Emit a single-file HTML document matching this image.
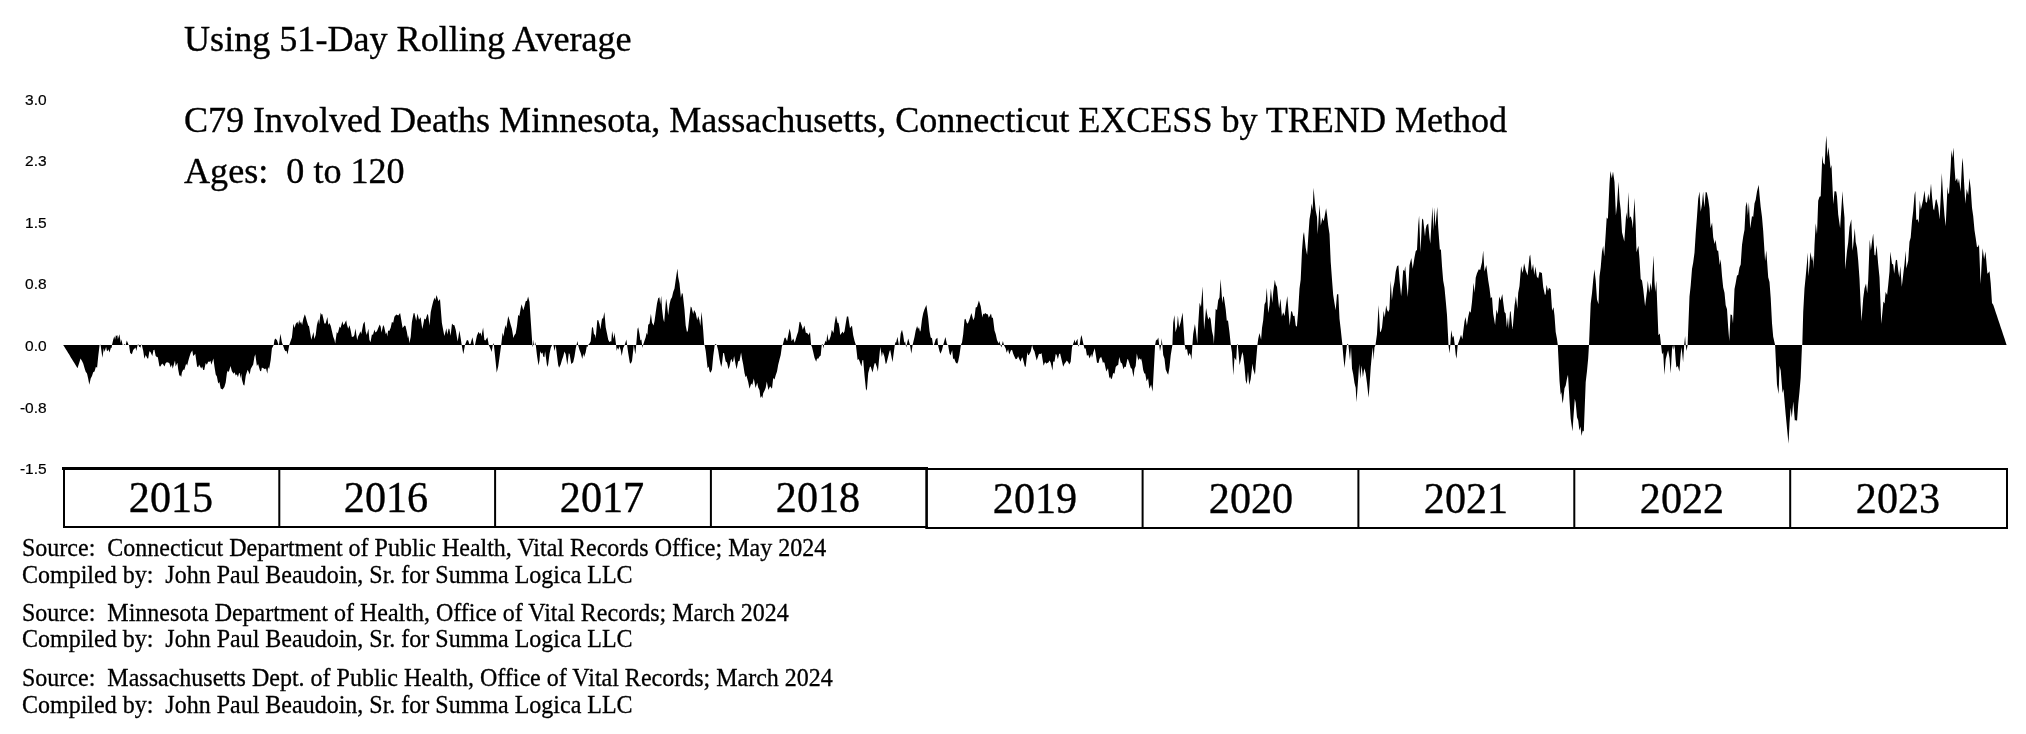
<!DOCTYPE html>
<html><head><meta charset="utf-8"><title>C79 Involved Deaths EXCESS by TREND Method</title>
<style>
html,body{margin:0;padding:0;background:#fff;}
body{width:2026px;height:734px;position:relative;overflow:hidden;color:#000;}
.t,.y,.yr{will-change:transform;-webkit-font-smoothing:antialiased;}
.t{position:absolute;white-space:pre;font-family:"Liberation Serif",serif;line-height:1;}
.h{font-size:36.12px;left:184.4px;}
.y{position:absolute;white-space:pre;font-family:"Liberation Sans",sans-serif;font-size:15.5px;line-height:16px;width:46.6px;text-align:right;left:0;}
.yr{position:absolute;font-family:"Liberation Serif",serif;font-size:42.2px;line-height:1;width:216px;text-align:center;}
.s{font-size:24px;left:21.7px;transform:scaleY(1.06);transform-origin:0 20px;-webkit-text-stroke:0.3px #000;}
.h{-webkit-text-stroke:0.35px #000;}
.yr{-webkit-text-stroke:0.35px #000;transform:scaleY(1.045);transform-origin:0 35.4px;}
.y{-webkit-text-stroke:0.2px #000;}
svg{position:absolute;left:0;top:0;}
</style></head><body>
<svg width="2026" height="734" viewBox="0 0 2026 734">
<path d="M63.2 345.0L63.2 345L64.5 347L65.7 349.1L67 351.1L68.2 353.1L69.5 355.1L70.7 357.2L72 359.2L73.2 361.2L74.5 363.3L75.7 365.3L77.5 368.2L78.2 365.9L79.5 361.9L80.5 358.5L82 361L83.2 363.6L84.5 367.9L85.7 371.8L87 373.4L88.2 378.7L89.3 384.7L90.7 378.5L92 376L93.2 372.3L94.5 371.4L95.9 366.8L97.1 367.8L98.2 356.6L99.6 345L99.9 345L100.1 344.4L100.4 345L100.6 345L102.4 357.7L103.8 348.2L104.5 351.9L106.1 347.1L107 351.3L107.7 350.8L108.5 349.3L109.4 352.6L111 347.4L111.6 348.2L112 345L113.2 339.7L114.3 336.2L115.1 339.6L115.9 335.3L116.7 335.9L117.3 335L117.9 339.3L119.4 334.2L120.8 342.9L121.4 339.2L122.6 345L123.7 345L124.3 343.8L124.9 345L125.7 345L126.8 340.5L128.6 345L129 345L130.2 353.1L131.9 354.2L133.2 350.1L134.4 348.8L135.5 347.5L136.3 351L137.6 345L138.2 344L138.5 345L139.2 346.9L140 346.8L140.4 348.1L141 345L141.5 344.5L141.8 345L143.2 350.7L144.4 358.8L145.7 355L147.4 358.5L148.2 358.4L149.4 351.2L150.5 352L152.3 356L153.5 350.1L154.4 349.7L155.7 355.9L157.2 357.2L157.8 357.1L159.4 366.3L160.4 366.5L162.1 363.4L163.2 364.5L164.5 366.4L165.7 363.1L166.9 362.2L168.2 362.6L169.4 363.2L170.7 367.5L171.9 364.6L172.7 368.7L175 360.6L175.6 366.6L177.4 362.7L178.2 369.6L179.4 375.8L180.2 375.2L181.2 376.9L181.9 372.4L183.3 369.6L184.3 369.9L186.1 363.8L187.2 365.4L188.2 361.3L189.4 357L190.7 353.1L192.3 350.4L193.2 355.9L194.5 354.8L195.3 353.7L197.1 366.4L198.2 367.3L199.1 364.4L201.2 368.6L202.2 366.6L203.2 369.9L204.2 370L205.7 363L206.9 364.8L208.3 361.6L209.3 361.9L210.4 360.7L211.4 364.7L213.4 358.6L214.4 366.2L215.7 374.5L216.9 376.6L218.2 383.6L219.4 382.1L220.7 388.4L222.6 389.5L224.4 386.9L225.7 382.5L226.9 373.1L227.7 370.8L228.8 372.1L230.5 365.9L231.9 371.3L233.6 373.8L234.6 372.2L235.7 375.6L236.9 374.2L237.9 377.2L239 373.3L239.7 373.1L240.5 378.6L241.2 373.6L241.9 379.6L243.4 385.1L244.4 385.5L245.7 375.9L246.9 371.9L247.7 369.7L249.7 374.5L250.7 369L251.9 366.8L253.2 364.4L254.4 356.9L255.3 354.2L256.9 366L258.1 364.1L260.1 371.1L261.1 371.2L261.9 367.5L263.8 368.6L265 369.3L266 368.3L267.3 373.7L268.1 367L269.1 369.1L270.7 359.9L271.9 348.6L273.7 345L274.4 340.2L275.2 338.5L276.9 339.9L278.6 345L278.9 345L280.4 333.7L281.9 342.3L282.9 345L284.4 349.6L285.5 351.2L286.5 350.7L287.5 354.6L289.3 345L290.7 340.8L291.9 337.4L293.4 323.8L294.6 327.9L295.7 324L297.4 321.8L298.2 324.7L299.2 319.7L300 323.6L301 321.5L302.1 324.9L303.2 319.2L304.8 314.2L305.7 316.7L306.9 321.2L308.4 326.3L308.9 325.6L311.3 339.8L313.5 331.9L314.3 338.9L315.7 335.1L316.9 325.3L318.4 318.9L319.1 324.2L320.7 312.5L321.5 314.8L322.2 313.7L323.2 318.1L324.4 323.4L325.6 323.5L327.4 316.9L328.3 324.9L329.3 322.9L330.7 325.8L331.9 331.1L333.2 336.8L334.4 339.7L335.2 343.4L336.8 331.9L337.8 333.5L339.6 326.5L340.6 327.9L342.4 321.2L343.3 324.9L344.4 324L346.2 320.3L346.9 324.6L348.2 328.8L349.5 325.3L350.7 330.4L351.9 336.9L353.6 336.6L354.4 335L355.4 328.6L357.2 340.2L358.2 336.3L359.4 334.1L360.3 331.3L361.3 334.1L363.2 324.1L364.6 321.5L365.7 331.4L366.8 334.9L368.4 328.7L369.4 339.7L370.5 342.3L371.9 334.5L373 334.8L374.5 329.6L375.3 332.5L376.9 331.2L378.2 327.9L379.7 324.6L380.7 326.8L381.5 332.4L383.2 324.9L384.2 327.1L385.8 334.3L386.6 332.2L387.3 336.5L388.1 330.5L389.3 331L390.7 327.8L391.9 322L393.2 322.8L394.4 316.8L396.3 314.6L398.3 315.4L400.1 313.1L402.6 328L404.6 325.4L405.5 325.9L406.9 332.1L408 338.4L408.5 335.3L409.3 343.2L410.7 336.9L411.9 322L413.6 313.3L414.4 313L416.2 320.7L417.5 313.6L419 319.7L420.6 317.2L422.3 328.9L423.2 324.7L424.4 318.5L425.7 319.6L427.4 313.8L428.2 315.4L429.6 325.5L430.7 312.3L431.9 306.7L433.2 301.6L434.6 297.5L435.3 300.3L436.6 295.1L438.4 301.2L440 299.1L441.9 323.1L443.2 329.9L444.4 336L446.4 328.3L447.2 334.5L448.7 328.6L449.4 329.1L450.6 335.8L452 323.5L453.2 325L454.4 325.3L455.7 329.8L456.9 337.1L457.7 341.5L459.4 330.5L460.7 338.3L461.7 345L463.3 354.3L465 345L466.9 339.9L468.2 340.5L469.3 344L470.5 343.9L472.4 337.3L473.9 345L475 345L476.9 335.7L478.6 331.8L479.7 333.9L480.6 332.5L481.4 336.6L483.1 327.6L484.4 340L485.4 340.4L487.4 337.2L488.8 345L490.7 349.3L491.6 352.1L492.8 345L493.3 342.9L493.9 345L495.7 362.3L496.7 372.8L498.2 366.6L499.4 358L501.2 345L502.6 332.6L503.5 336.4L504.4 330.3L505.5 325.1L506.3 328.5L508.2 316L509.4 319.8L510.7 324.8L511.9 328.8L513.4 338L514.5 334.9L515.7 333.5L517 325.8L518.2 314.7L519.3 316.3L520.7 308.3L521.6 304.3L523.3 310.3L524.5 306.3L525.7 301.2L527 300.8L528.1 296.5L529.5 302.1L530.7 319.9L532.4 345L532.8 347.2L533.1 345L533.4 339.5L534 345L534.4 345L534.8 345L535.1 341.9L535.8 345L537 355.7L538.5 365.4L539.5 360.6L540.2 351.3L541.3 353.8L542.5 352.6L543.2 356.4L544.4 357.3L545.1 351.3L547.2 367.1L548.2 364.2L549.5 354.1L550.7 348L552.1 345L553.4 345L554.6 351L555.7 345L557 355.5L558.2 365.1L559.1 367.7L560.7 364.5L562 359.8L563.2 356.6L564.5 351.6L565.7 354.2L567.3 365L568.8 353.3L569.6 354.1L571.3 363.9L573.2 362.3L574.5 356.5L575.7 348.8L576.5 345L577.5 340.9L578.1 345L579.5 350.1L580.7 352.9L582.3 359L583.3 353.4L584.1 357.1L585.7 352.2L586.8 346.2L587.3 347.3L588.1 345L589.5 343.4L590.7 341.3L592 327.2L593 327.6L594 334.6L595 334.5L595.7 338.4L597.3 320.3L598.2 320.1L599.5 324.3L600.4 329.6L602.1 318L603 319.1L604.4 312.1L605.7 327.3L607 333.4L608.2 339.4L609.3 341.9L610.4 341.2L611.3 341.4L612.1 331L613.7 339.1L614.5 332.6L616.1 345L616.7 350.9L617.5 347.7L618.4 349.7L619.3 346.2L620.7 350L621.7 355.9L623.2 348.1L624.7 345L626.4 339.6L627.1 345L628.2 353L629.8 362.8L630.7 363.7L632 360.9L633.8 345L635.4 354.4L636.2 345L637.5 329L638.2 327.3L639.5 334.1L640.4 340.6L641.4 339.5L642.1 345L642.6 348L643.1 345L644.5 340.7L645.7 337.2L646.6 332.7L647.4 334.9L648.2 324.8L649.5 323.7L650.9 313.8L652 322.6L653.5 325.6L654.5 321.2L655.7 312.5L657 303.6L658.2 298.2L659.4 297.2L660.2 304.2L661.2 295.7L662 308.6L663.2 318.4L664.2 322.2L666.1 298.4L667 304.2L668.2 315.2L669.5 304.2L670.7 299.4L672 297.3L673.2 292L674.5 288.5L675.7 279.9L677.4 268.6L678.2 277L679.5 283.5L680.9 297.8L682 292.7L682.8 294.2L684.5 309.8L685.7 325.4L687 332.2L687.9 330.5L689.5 316L690.7 306.5L691.6 307.6L693.2 314.1L694.1 309.9L695.7 313.1L697.2 320.3L698.2 316.1L699.5 320.2L700.3 325.9L701.6 311.8L703.2 330.5L704.2 345L704.6 345L705.7 351L707.6 368.2L708.7 366.6L709.5 371.3L710.6 372.8L712 369.4L713.2 356.2L714.7 345L715.4 344L716.8 345L718.2 350.6L719.5 358.9L721.2 367.1L722 363.6L723.2 352.9L724 353.1L725.7 361.5L727 362.6L728.5 369.3L729.5 366.3L730.7 360.6L731.5 358.8L732.4 362.3L733.2 361.3L734.1 355.9L735.7 364.9L736.6 369.3L738.2 361.2L739.5 361L741.1 352.6L742 358.5L743.2 364.5L744.5 373.1L745.6 377.3L746.4 375.4L748.2 381.9L749.5 388.7L751.2 383.5L752.3 384.9L753.8 378.6L755.6 388.1L757.2 382.8L758.2 387.5L759.5 390L760.5 398.1L761.4 396.1L762.3 398.2L763.2 393.3L764.5 390.7L765.7 387.7L766.8 381.6L768.4 390.1L770.1 386.3L772 388.8L773.2 378.1L774.5 379.6L775.7 375.3L777 371.4L778.2 364.8L779.5 359.4L780.7 354.9L782 345.7L782.7 345L784.5 337.9L785.4 337.5L787.1 341.3L788.2 335.6L789.6 328.5L790.7 333.3L791.6 341.2L793.3 338.4L794.7 342.8L795.7 339.4L797 335.1L798.2 331.6L799.5 322L800.3 321.7L802 326.6L802.8 329.7L804.4 325.4L805.9 332.9L807 332.8L808.6 335.1L810 332.1L811.1 345L812 347L813.2 352.1L814.5 357.8L816.2 361.7L817 358.6L818.2 358.8L819.5 356.5L820.7 355.6L821.7 345L822.3 343.9L822.9 345L823.4 348.4L824 345L825.7 340.5L826.4 342.2L827.3 333.6L828.2 339.3L829 340.7L830.7 336.1L831.8 329.8L833.5 333L834.5 323.7L836 315.5L837.6 322.9L838.5 322.8L839.5 328.3L840.2 334.9L842 332.4L842.7 331.4L843.5 333.4L844.5 331.3L845.7 323.8L846.9 316.4L848.2 316.4L850 328.2L851.2 326.4L852 325.7L853.2 335.3L854.5 340.8L855.9 345L857.6 360.1L858.6 359L859.5 361L861.4 366.4L862.4 360.3L863.2 360.1L864.5 375.3L866.1 390.8L867 388.7L868.2 373.3L869.8 366.9L870.7 366.4L872.5 372.6L873.2 369.5L874.5 363.6L875.4 363.1L877 367.5L877.9 371.8L879.5 354.4L880.3 346.9L881.9 357.1L882.8 351.7L884.5 357.1L885.7 363.9L886.5 363.2L888.2 356.5L889.5 351.3L890.2 350L892.5 362.3L893.2 356.9L894.8 345L895.5 342L896.1 342.7L897.4 336.7L898.9 345L899.5 345L900.7 333.6L902 329.8L903.2 335.1L904.3 343L905.1 341.3L905.7 345L906.4 347.4L906.7 345L908.2 338.5L910 345L911.3 353.7L912.6 345L914.5 337L915.7 330.5L917.1 325.9L918.1 329L919 327.2L920 331.7L920.7 330.3L922 319.3L923.2 313.2L924.5 309.2L926.4 305.1L928.2 318L929.5 330.9L930.7 337.6L932 338.3L933 345L934 345L935.7 339.2L937.4 337.7L938 345L939.5 351.3L940.5 353.8L942 350.1L943.2 345L944.5 340.2L945.4 337L947 344.4L948.1 345L949.5 353.3L950.4 355.4L952.2 350.3L953.1 359.3L954.1 358.2L955.7 362.5L957.2 363.8L958.2 361.6L959.5 354.8L960.9 345L962 342.5L963.2 334.3L964.5 319.6L965.5 318.8L967.1 323.7L968.2 322.7L969.5 319.3L971.4 312.9L973.3 320.2L974.5 317.3L975.7 307.4L977 306.9L978.9 300.6L980.7 306.3L982.4 317.5L983.2 313.5L984.1 314.6L985.1 313L986.9 314.2L987.8 314.3L988.8 317.7L991 313.5L991.9 318L992.9 317.6L994.5 330.5L995.7 334.1L997 340L998.6 343.6L999.3 341L1000.5 345L1001.4 347.6L1001.9 345L1002.9 341.1L1003.9 345L1005.7 348.4L1006.7 352.7L1008.1 349.2L1009.3 354.4L1010.8 350.6L1012 349.8L1013.2 353.8L1014.5 356.8L1015.7 359.3L1017 358.7L1018.1 356.2L1019.5 359.5L1020.5 361.7L1021.9 357.8L1022.6 357.4L1024.8 366.5L1025.7 366.7L1027.4 352.3L1028.2 355.3L1028.9 355.1L1030.7 351.4L1032.1 345L1033.2 349L1034.5 351.4L1035.7 356.6L1036.7 360.6L1038.8 354.2L1039.6 353.7L1040.7 354.1L1041.5 353.1L1043.6 365.8L1045.1 361.9L1046.4 363.8L1047.2 362.8L1048 363.1L1049.6 360.6L1050.7 362.8L1052.5 370.5L1053.2 361.6L1054.5 361.7L1055.7 354L1056.6 354.7L1057.9 359.2L1059.1 353.9L1060.1 353.6L1062 361.6L1063.2 366.7L1064.5 363.7L1065.7 362.2L1066.8 360.5L1068.2 362.3L1069.3 364.6L1070.7 361.7L1072 347.2L1072.8 345L1074.7 339.5L1075.3 342.9L1077.5 338.8L1077.9 345L1078.4 346.8L1078.9 345L1079.6 345L1080.7 337.9L1081.5 335L1083.6 345L1084.5 348.6L1085.7 348.5L1087 356.1L1088.2 354.6L1089.6 358.5L1091.3 354.1L1092 357.8L1093.2 352.7L1094.7 348.3L1095.7 354.3L1097 362.7L1098.5 363.1L1099.5 358.8L1101.1 356.8L1102 359.2L1103 363.2L1103.7 361.8L1104.5 363.1L1106.3 371.4L1108 368.3L1109.4 378.6L1110.1 376.6L1111.1 379.3L1112 378.3L1113.2 373L1114.5 373.7L1115.7 367.1L1117 365.5L1118.2 365L1119.2 357L1120.7 362.6L1122 363.5L1123.5 369.3L1124.5 366.7L1125.7 367.1L1127.5 358.8L1128.2 359.8L1129.5 363.7L1130.7 367.7L1132 368.9L1133.5 377.2L1134.5 368.8L1135.7 366.1L1136.8 353.4L1138.3 360.4L1139.2 358L1140.2 359.7L1141.1 358.4L1142 362.1L1143.2 370.1L1144.3 373.5L1145.2 373.6L1146.6 381.3L1148.1 378.2L1149.4 388.8L1151.1 384.6L1152.6 391.7L1155.1 345L1156.1 339.5L1156.9 340.6L1158.3 337.4L1159.2 345L1160 351.2L1161.2 345L1161.6 338.3L1162.4 345L1163.2 355.1L1164.5 358.7L1165.7 369.5L1167.3 373.2L1168.2 374.7L1169.5 367.2L1170.7 355.4L1172.4 345L1173.2 322.8L1174.4 315.1L1175.5 332.2L1177 326.8L1177.9 315.4L1179.1 327.6L1180.7 322L1182.6 312.5L1184.7 345L1185.7 350.1L1187 349.1L1188.2 356.3L1189.5 352.9L1190.7 355.2L1191.4 359.9L1192.4 345L1193.2 334.1L1194.9 324.1L1195.7 329.4L1197.3 343.8L1198.2 324.4L1199.6 302.8L1201 307L1202.6 286.3L1204.1 329.8L1206.1 308.1L1207 313.6L1208.2 319.6L1209.8 316.8L1210.7 319.6L1212 331.1L1213.2 336.3L1213.9 343.9L1215.7 308.7L1217 310.3L1218.2 300.3L1219.5 297.4L1220.6 279L1222.3 302.9L1223.2 296.3L1223.9 296.9L1225.7 309.2L1226.8 320.8L1228 320.6L1229.5 332.4L1230.8 345L1232 352.8L1233.3 375.5L1234.5 357.6L1236.2 360.4L1237 345L1237.4 343.7L1237.8 345L1239.6 365.2L1240.7 360.1L1242.3 352L1243.2 355.3L1244.5 366.4L1245.7 380.5L1246.8 384L1248 371.4L1249.2 385.1L1250.7 379.3L1252.5 363.5L1253.2 368.9L1255 375.1L1255.7 365.6L1257.4 345L1258.2 339L1259.5 332.9L1261.1 339.7L1262 328.1L1263.2 320.3L1264.5 304.4L1265.7 301.8L1266.8 287.8L1268.2 312.9L1269.5 305.3L1270.9 288.4L1272.3 303L1273.2 292.2L1274.8 279.8L1275.7 284.6L1277 287.1L1278.2 299.8L1279.1 308.6L1280.5 298.6L1281.9 316.5L1283.2 312.2L1284.6 315.9L1285.7 307.1L1287.3 296L1288.2 307.5L1289.7 325.7L1291.1 311.4L1292 311.2L1293.2 315.9L1294.5 315.8L1295.7 325.5L1296.9 326.7L1298.2 310.8L1299.5 288.5L1300.7 279.5L1302 250.6L1303.2 235.3L1304 231.9L1305.7 247.7L1307.1 255L1308.2 237.9L1309.5 219.2L1310.7 212.2L1311.6 203.4L1312.6 210.2L1313.6 187.8L1314.5 198.4L1315.7 210.6L1317 217.1L1317.7 234.3L1319.5 204.5L1320.8 225.5L1322.4 217.5L1323.2 220.9L1324 219.8L1326.1 208.2L1327 214.6L1328.2 225.5L1329.5 234L1330.7 261.7L1332 279.6L1333.2 295L1334.5 303.2L1335.7 310.3L1337 294.2L1338.3 294.3L1339.5 318.8L1340.7 329.1L1342.4 345L1343.2 354.7L1344.5 367.9L1345.7 356L1346.9 345L1347.7 343.8L1348.4 345L1350 360.2L1351 347.3L1352 368.4L1353.2 374.2L1354.5 383L1355.7 387.8L1356.5 402.2L1358.2 378.7L1359.2 363.8L1360.2 378.9L1361.6 365.5L1362.9 377.3L1364.3 368.2L1365.7 373.3L1367 383.3L1368.6 397.7L1369.5 386.2L1370.7 367.5L1372 353.6L1372.9 347.3L1373.5 359.9L1374.5 347.3L1375.5 345L1377 333.9L1378.6 305L1380 331.3L1380.7 332.3L1382 327.6L1383.7 310.7L1384.7 317.4L1386.2 305.3L1387 309.6L1388.2 312.1L1389.4 309.6L1390.7 280.6L1391.9 300.3L1393.2 288.2L1394.5 281.7L1395.7 271.7L1397 266.3L1398.4 265.3L1399.5 279.6L1401.1 296.3L1402 287.1L1403.2 270L1404.5 270.9L1405.2 266.1L1407 288.2L1407.8 297.1L1409.5 265.2L1411.3 257.9L1412.7 268.7L1414.5 257.5L1415.7 251.2L1417 249.8L1418.2 225.4L1419.1 215.8L1420.5 252.3L1422.1 218.4L1423.2 219.7L1425 236.5L1425.7 229L1426.6 225.3L1428.2 223.5L1429.5 237.8L1430.3 243.8L1432.4 206.8L1433.4 230.7L1434.4 207.2L1435.4 226.6L1437.3 206.8L1438.2 227.3L1439.9 250.2L1440.9 249L1442 266.2L1443.2 280.8L1444.5 287.8L1445.7 300.6L1447 315L1448.5 345L1449.5 353.4L1450.3 345L1451.2 330.1L1452.6 337.8L1453.6 335.7L1454.8 345L1455.7 354.7L1456.5 358.8L1457.7 345L1459.5 339.8L1461 334.7L1462.4 339.2L1463.2 332.1L1464.5 321.6L1465.5 317L1466.9 325.7L1468.2 317.1L1469.5 311L1470.7 312.8L1472 301.8L1473.6 282.7L1474.7 292.8L1475.7 277.7L1477 273.3L1478.8 269.2L1480.2 269.9L1482 262.2L1483.2 250.6L1484.5 271.5L1486.3 264.9L1488.2 280.3L1489.5 288.2L1490.7 298.3L1492 297L1493.2 313.8L1495.1 325L1496.5 309.6L1497.8 314.2L1499.2 296.4L1500.6 300.6L1502.3 294L1503.2 302L1504.5 311.9L1505.7 313.5L1506.8 327.3L1508 316.9L1508.8 329.1L1510 311.3L1510.7 311.8L1512 325.6L1512.7 329.1L1514.5 305.8L1515.9 296.3L1517.4 309.1L1518.2 293.1L1519.5 286L1521.1 266.1L1522.5 273L1523.2 269.8L1524.1 263.3L1525.7 270.3L1527.6 275.4L1529.5 256.6L1530.2 254.6L1531.7 270.5L1533.1 264.1L1534.3 275L1535.4 266.4L1536.8 276.5L1538.2 278.4L1539.5 271.8L1540.7 272.6L1541.9 272.9L1543.2 287.1L1545 295.2L1545.7 293.7L1546.6 284.8L1548 291.1L1549 287.8L1550.7 289.3L1552.1 310.7L1553.5 307.2L1554.5 315.6L1555.7 331.9L1557 339.1L1557.8 345L1559.5 380.7L1560.7 394.8L1561.4 392L1562.5 403.5L1563.2 399.9L1564.5 388.3L1565.7 385.6L1567 378.6L1568 374.7L1569.5 400.6L1570.7 418.7L1572.5 431.6L1573.2 420.8L1574.8 398.8L1575.7 402.7L1577 417.3L1578.2 420.5L1579.4 430.4L1580.5 426.6L1581.5 436L1582.7 430.4L1583.8 431.6L1585.7 382.3L1587 371L1588.2 358.2L1589 345L1590.7 303.7L1592 293.2L1593.2 279.9L1594.4 269.3L1595.7 280.6L1597 299.4L1598.5 304.3L1599.5 276.4L1600.7 267.4L1602 251.7L1603.2 245.9L1604.2 256.5L1605.7 233.7L1606.7 217.6L1607.9 219L1609.5 183.7L1610.4 170.9L1611.8 178.2L1613 171.6L1614.5 181.9L1615.9 215.4L1617 205.6L1618.5 181.7L1619.5 199.6L1620.7 210L1622 232.3L1623.2 237.1L1624.3 241.5L1626.3 212.2L1627.3 219.5L1628.3 191.9L1629.6 217.7L1630.8 216.3L1632 221.2L1632.8 228.6L1634.5 198L1635.7 224.9L1636.5 252.3L1638.4 245.7L1639.5 259L1640.7 278.9L1642 280.4L1643.2 288.7L1645.1 306.3L1647 291L1647.8 280.8L1649.2 292.7L1650.6 282.7L1651.6 290.8L1653.5 255.3L1654.5 281.4L1655.3 291.9L1656.3 280.6L1658.4 335.2L1659.8 333.6L1661 345L1661.1 345L1662.1 354.5L1663.2 352.3L1664.4 375L1665.7 359.3L1667 354.2L1668.1 350.2L1669.5 358.1L1670.7 373.4L1672 349.3L1673.1 345L1673.8 349.9L1674.6 345L1675.7 360.3L1676.4 367.4L1677.9 365.9L1679.4 371.7L1680.7 353.9L1681.6 347.3L1683.1 362.3L1684.2 345L1685.1 336L1685.7 345L1686.6 350.9L1687.6 345L1689.5 296.6L1690.7 285.4L1692 269L1693.2 262.4L1694.5 252.7L1695.7 233.7L1697 216.4L1698.2 199L1699.5 191.6L1700.7 211.7L1702 204.2L1703.1 191.7L1704.4 207.5L1705.7 192L1706.8 192.5L1708.2 199.2L1709.5 208.6L1710.5 228.2L1712.1 222.6L1713.2 237.3L1714.6 244.1L1715.6 239.8L1717 250.5L1718.2 250.8L1719.7 265L1720.7 259.3L1722 275.9L1723.2 287.6L1724.5 292.8L1725.7 305.2L1727 309.3L1728.2 327.8L1729.3 340.9L1730.5 314.4L1732 315.1L1733 323.5L1734.5 288.9L1735.7 283L1737 275.5L1738.2 274.9L1739.5 267.6L1740.7 264.6L1742 244.9L1743.2 236.7L1744.5 229.8L1745.7 206.6L1746.9 201.7L1747.9 215.3L1748.9 202.2L1750.2 228.4L1752 216L1753.2 217L1754.5 203.4L1755.7 199.8L1757 191.4L1758.7 184.8L1759.5 194.8L1760.7 207L1762 216.9L1763.2 231L1765.1 261.1L1766.3 250.3L1768.2 277.3L1769.5 281.9L1770.7 297.8L1772 323.3L1773.2 336.8L1775.1 345L1777 384.7L1778.6 393.9L1779.5 365.7L1780.7 370.6L1782.5 393.1L1783.5 389L1784.5 400.6L1785.7 414.6L1787 428.2L1788.5 443.7L1789.5 423.4L1790.6 407.8L1791.8 417.8L1793.3 401.5L1794.8 420.4L1796.3 420L1797 421.6L1798.2 404.4L1799.5 391.5L1800.7 377.5L1802 345L1802.3 345L1803.2 312.4L1804.5 288.5L1805.7 276.6L1807 262.6L1807.8 252.4L1808.4 276.3L1809.5 265L1810.4 252L1812.1 260.9L1813.1 255.5L1813.7 269L1814.5 245.1L1815.7 223.3L1817 234.2L1818.2 200.7L1819.5 196.8L1820.7 196.3L1822.3 155.5L1823.2 162.9L1824.7 164.7L1825.7 144L1826.4 135.5L1827.4 156.7L1828.4 147.1L1829.5 157.2L1830.5 168.5L1831.5 164.9L1833.3 204.2L1834.5 191.2L1836.2 191.6L1837 196.4L1838.2 214.5L1840.1 227.9L1842.5 191L1843.2 203.1L1844.5 217.7L1845.2 269.4L1847 251.1L1848.2 242.6L1849.5 227.1L1851.3 219.3L1852.5 250.7L1853.2 245.4L1854.8 228.2L1855.7 242.1L1857 248.1L1858.2 260.4L1859.5 278.7L1860.7 306.1L1861.5 321.3L1863.2 298.4L1864.5 288.4L1866 283.6L1867.2 293.3L1868.2 280.3L1869.7 239.5L1870.9 250.6L1872 241.8L1873.2 233.4L1874.5 254.9L1875.4 255.4L1876.6 245.1L1878.2 264.6L1879.5 277.3L1881.3 323.9L1883.4 301.4L1884.6 303.4L1885.6 292.1L1887.1 294.9L1888.2 285L1889.5 271.6L1890.3 251.6L1892 263.8L1893.2 264.5L1894.2 273.7L1895.8 260.2L1897 259.8L1898.2 270.6L1899.3 277.6L1900.3 266.1L1901.8 286.8L1903.2 274.8L1904.5 263.7L1905.7 250.7L1906.3 268.6L1908.2 260.8L1909.5 241.8L1910.7 237.5L1912 221.3L1913.2 210.9L1914.5 195L1915.3 190.9L1916.3 220.1L1917.7 219.2L1918.7 222.9L1919.8 200.3L1920.8 209.8L1922 204.8L1923.2 199.3L1924.5 190.6L1925.7 201.9L1926.9 202.8L1928.3 193.6L1929.4 200.7L1931 183.4L1932 196.8L1933.2 208.4L1934.1 210.5L1935.7 199.9L1936.5 199.2L1938.2 206.7L1939.6 219.6L1940.7 197.6L1941.8 173L1943.2 198.5L1944.5 215.4L1945.7 226.2L1947.5 186.8L1948.2 192.9L1949 194.3L1950.7 166.2L1951.4 150L1952.4 158L1953.5 147.4L1954.5 167.1L1955.5 181.3L1957.1 178.1L1958 183.6L1959 178.8L1960.6 191.7L1962 164L1962.7 157.8L1964.5 189.7L1965.3 203.7L1966.7 189.1L1968.2 195L1969.4 177.9L1970.7 188.5L1972 207.8L1973.2 216L1974.5 230.3L1975.7 237.9L1977 247.2L1978.2 246.6L1979 244.3L1980.6 284.1L1982 256.9L1982.7 248.3L1984.1 259.3L1985.5 251.4L1987.4 273.8L1988.6 272.6L1989.5 271.3L1990.7 283L1992 303.1L1993.2 304.8L1994.5 308.5L1995.7 312.3L1997 316.1L1998.2 319.8L1999.5 323.6L2000.7 327.3L2002 331.1L2003.2 334.8L2004.5 338.6L2005.7 342.3L2006.6 345L2006.6 345.0Z" fill="#000" stroke="none"/>
<g fill="#000" stroke="none">
<rect x="62" y="467" width="866" height="3"/>
<rect x="63" y="526" width="865" height="2"/>
<rect x="63" y="467" width="2" height="61"/>
<rect x="278.3" y="467" width="2" height="61"/>
<rect x="494.1" y="467" width="2" height="61"/>
<rect x="709.9" y="467" width="2" height="61"/>
<rect x="925.3" y="467" width="2.6" height="62"/>
<rect x="926" y="468" width="1082" height="2"/>
<rect x="926" y="527" width="1082" height="2"/>
<rect x="1141.6" y="468" width="2" height="61"/>
<rect x="1357.4" y="468" width="2" height="61"/>
<rect x="1573.3" y="468" width="2" height="61"/>
<rect x="1789.2" y="468" width="2" height="61"/>
<rect x="2006" y="468" width="2" height="61"/>
</g>
</svg>
<div class="t h" style="top:20.5px">Using 51-Day Rolling Average</div>
<div class="t h" style="top:101.5px;letter-spacing:-0.04px">C79 Involved Deaths Minnesota, Massachusetts, Connecticut EXCESS by TREND Method</div>
<div class="t h" style="top:153.1px">Ages:  0 to 120</div>
<div class="y" style="top:91.5px">3.0</div>
<div class="y" style="top:153.1px">2.3</div>
<div class="y" style="top:214.8px">1.5</div>
<div class="y" style="top:276.4px">0.8</div>
<div class="y" style="top:338.0px">0.0</div>
<div class="y" style="top:399.7px">-0.8</div>
<div class="y" style="top:461.3px">-1.5</div>
<div class="yr" style="left:62.6px;top:476.6px">2015</div>
<div class="yr" style="left:277.6px;top:476.6px">2016</div>
<div class="yr" style="left:493.6px;top:476.6px">2017</div>
<div class="yr" style="left:709.6px;top:476.6px">2018</div>
<div class="yr" style="left:927.0px;top:477.6px">2019</div>
<div class="yr" style="left:1143.0px;top:477.6px">2020</div>
<div class="yr" style="left:1358.0px;top:477.6px">2021</div>
<div class="yr" style="left:1574.0px;top:477.6px">2022</div>
<div class="yr" style="left:1790.0px;top:477.6px">2023</div>
<div class="t s" style="top:536.1px">Source:  Connecticut Department of Public Health, Vital Records Office; May 2024</div>
<div class="t s" style="top:562.9px">Compiled by:  John Paul Beaudoin, Sr. for Summa Logica LLC</div>
<div class="t s" style="top:601.0px">Source:  Minnesota Department of Health, Office of Vital Records; March 2024</div>
<div class="t s" style="top:627.3px">Compiled by:  John Paul Beaudoin, Sr. for Summa Logica LLC</div>
<div class="t s" style="top:665.9px">Source:  Massachusetts Dept. of Public Health, Office of Vital Records; March 2024</div>
<div class="t s" style="top:692.8px">Compiled by:  John Paul Beaudoin, Sr. for Summa Logica LLC</div>
</body></html>
